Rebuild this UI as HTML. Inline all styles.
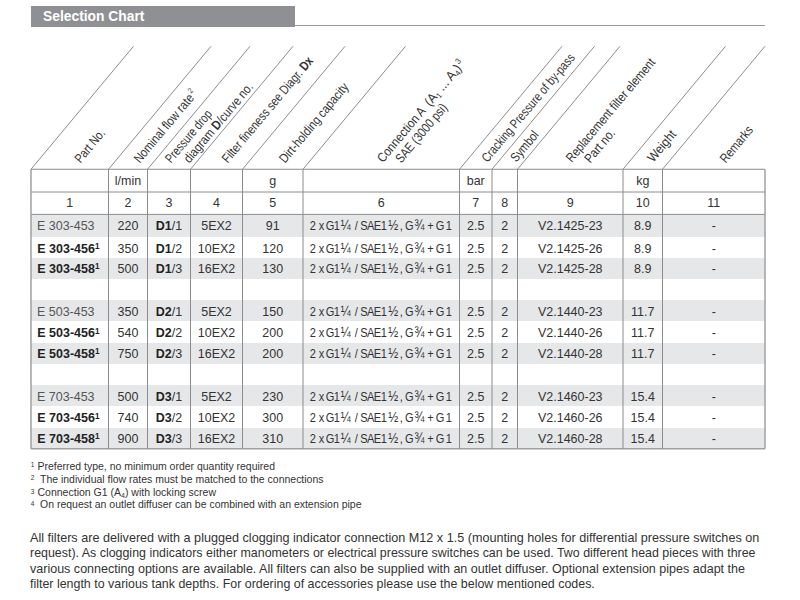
<!DOCTYPE html>
<html><head><meta charset="utf-8"><style>
html,body{margin:0;padding:0;}
body{width:800px;height:600px;position:relative;overflow:hidden;background:#fff;font-family:"Liberation Sans",sans-serif;color:#333;}
.a{position:absolute;white-space:nowrap;}
.c{position:absolute;white-space:nowrap;text-align:center;font-size:12.5px;line-height:14px;}
.b{font-weight:bold;color:#222;}
.h{position:absolute;white-space:nowrap;font-size:12px;line-height:13px;transform-origin:0 100%;transform:rotate(-47deg);color:#333;}
sup{font-size:7px;vertical-align:top;position:relative;top:-1px;}
</style></head><body>

<div class="a" style="left:30.6px;top:5.9px;width:264.6px;height:21px;background:#8f9094;"></div>
<svg class="a" style="left:0;top:0" width="800" height="40"><text x="43.1" y="21.4" font-family="Liberation Sans" font-size="14" font-weight="bold" fill="#fff" textLength="101.3" lengthAdjust="spacingAndGlyphs">Selection Chart</text></svg>
<div class="a" style="left:295px;top:24.5px;width:470px;height:1.5px;background:#9a9a9a;"></div>
<div class="a" style="left:31px;top:214.6px;width:734px;height:22.20px;background:#e6e7e8;"></div>
<div class="a" style="left:31px;top:258.3px;width:734px;height:20.45px;background:#e6e7e8;"></div>
<div class="a" style="left:31px;top:300.4px;width:734px;height:21.10px;background:#e6e7e8;"></div>
<div class="a" style="left:31px;top:342.9px;width:734px;height:20.85px;background:#e6e7e8;"></div>
<div class="a" style="left:31px;top:385.4px;width:734px;height:21.10px;background:#e6e7e8;"></div>
<div class="a" style="left:31px;top:427.9px;width:734px;height:20.40px;background:#e6e7e8;"></div>
<svg class="a" style="left:0;top:0" width="800" height="600" viewBox="0 0 800 600"><line x1="31" y1="169.25" x2="765" y2="169.25" stroke="#8c8c8c" stroke-width="1"/><line x1="31" y1="192.0" x2="765" y2="192.0" stroke="#8c8c8c" stroke-width="1"/><line x1="31" y1="214.4" x2="765" y2="214.4" stroke="#8c8c8c" stroke-width="1"/><line x1="31" y1="448.8" x2="765" y2="448.8" stroke="#a0a0a0" stroke-width="1.5"/><line x1="31" y1="169.25" x2="31" y2="448.8" stroke="#a0a0a0" stroke-width="1.5"/><line x1="108.5" y1="169.25" x2="108.5" y2="448.8" stroke="#8c8c8c" stroke-width="1"/><line x1="147.5" y1="169.25" x2="147.5" y2="448.8" stroke="#8c8c8c" stroke-width="1"/><line x1="190.5" y1="169.25" x2="190.5" y2="448.8" stroke="#8c8c8c" stroke-width="1"/><line x1="242.5" y1="169.25" x2="242.5" y2="448.8" stroke="#8c8c8c" stroke-width="1"/><line x1="303" y1="169.25" x2="303" y2="448.8" stroke="#8c8c8c" stroke-width="1"/><line x1="459.5" y1="169.25" x2="459.5" y2="448.8" stroke="#8c8c8c" stroke-width="1"/><line x1="492" y1="169.25" x2="492" y2="448.8" stroke="#8c8c8c" stroke-width="1"/><line x1="517.5" y1="169.25" x2="517.5" y2="448.8" stroke="#8c8c8c" stroke-width="1"/><line x1="623" y1="169.25" x2="623" y2="448.8" stroke="#8c8c8c" stroke-width="1"/><line x1="662.5" y1="169.25" x2="662.5" y2="448.8" stroke="#8c8c8c" stroke-width="1"/><line x1="765" y1="169.25" x2="765" y2="448.8" stroke="#a0a0a0" stroke-width="1.5"/><line x1="31" y1="169.25" x2="133.5" y2="46.25" stroke="#8c8c8c" stroke-width="1"/><line x1="108.5" y1="169.25" x2="211.0" y2="46.25" stroke="#8c8c8c" stroke-width="1"/><line x1="147.5" y1="169.25" x2="250.0" y2="46.25" stroke="#8c8c8c" stroke-width="1"/><line x1="190.5" y1="169.25" x2="293.0" y2="46.25" stroke="#8c8c8c" stroke-width="1"/><line x1="242.5" y1="169.25" x2="345.0" y2="46.25" stroke="#8c8c8c" stroke-width="1"/><line x1="303" y1="169.25" x2="405.5" y2="46.25" stroke="#8c8c8c" stroke-width="1"/><line x1="459.5" y1="169.25" x2="562.0" y2="46.25" stroke="#8c8c8c" stroke-width="1"/><line x1="492" y1="169.25" x2="594.5" y2="46.25" stroke="#8c8c8c" stroke-width="1"/><line x1="517.5" y1="169.25" x2="620.0" y2="46.25" stroke="#8c8c8c" stroke-width="1"/><line x1="623" y1="169.25" x2="725.5" y2="46.25" stroke="#8c8c8c" stroke-width="1"/><line x1="662.5" y1="169.25" x2="765.0" y2="46.25" stroke="#8c8c8c" stroke-width="1"/></svg>
<svg class="a" style="left:0;top:0" width="800" height="600" font-family="Liberation Sans" font-size="13"><text transform="translate(128.00,185.00) scale(0.96,1)" text-anchor="middle" fill="#333" xml:space="preserve">l/min</text><text transform="translate(272.75,185.00) scale(0.96,1)" text-anchor="middle" fill="#333" xml:space="preserve">g</text><text transform="translate(475.75,185.00) scale(0.96,1)" text-anchor="middle" fill="#333" xml:space="preserve">bar</text><text transform="translate(642.75,185.00) scale(0.96,1)" text-anchor="middle" fill="#333" xml:space="preserve">kg</text><text transform="translate(69.75,207.30) scale(0.96,1)" text-anchor="middle" fill="#333" xml:space="preserve">1</text><text transform="translate(128.00,207.30) scale(0.96,1)" text-anchor="middle" fill="#333" xml:space="preserve">2</text><text transform="translate(169.00,207.30) scale(0.96,1)" text-anchor="middle" fill="#333" xml:space="preserve">3</text><text transform="translate(216.50,207.30) scale(0.96,1)" text-anchor="middle" fill="#333" xml:space="preserve">4</text><text transform="translate(272.75,207.30) scale(0.96,1)" text-anchor="middle" fill="#333" xml:space="preserve">5</text><text transform="translate(381.25,207.30) scale(0.96,1)" text-anchor="middle" fill="#333" xml:space="preserve">6</text><text transform="translate(475.75,207.30) scale(0.96,1)" text-anchor="middle" fill="#333" xml:space="preserve">7</text><text transform="translate(504.75,207.30) scale(0.96,1)" text-anchor="middle" fill="#333" xml:space="preserve">8</text><text transform="translate(570.25,207.30) scale(0.96,1)" text-anchor="middle" fill="#333" xml:space="preserve">9</text><text transform="translate(642.75,207.30) scale(0.96,1)" text-anchor="middle" fill="#333" xml:space="preserve">10</text><text transform="translate(713.75,207.30) scale(0.96,1)" text-anchor="middle" fill="#333" xml:space="preserve">11</text><text transform="translate(37.00,230.00) scale(0.96,1)" fill="#555" xml:space="preserve">E 303-453</text><text transform="translate(128.00,230.00) scale(0.96,1)" text-anchor="middle" fill="#333" xml:space="preserve">220</text><text transform="translate(169.00,230.00) scale(0.96,1)" text-anchor="middle" fill="#333" xml:space="preserve"><tspan font-weight="bold" fill="#222">D1</tspan>/1</text><text transform="translate(216.50,230.00) scale(0.96,1)" text-anchor="middle" fill="#333" xml:space="preserve">5EX2</text><text transform="translate(272.75,230.00) scale(0.96,1)" text-anchor="middle" fill="#333" xml:space="preserve">91</text><g transform="scale(0.85,1)"><text x="367.94" y="230.00" text-anchor="middle" fill="#333">2</text><text x="378.35" y="230.00" text-anchor="middle" fill="#333">x</text><text x="388.24" y="230.00" text-anchor="middle" fill="#333">G</text><text x="396.35" y="230.00" text-anchor="middle" fill="#333">1</text><text x="406.59" y="230.00" text-anchor="middle" font-size="14" fill="#333">¼</text><text x="419.12" y="230.00" text-anchor="middle" fill="#333">/</text><text x="428.24" y="230.00" text-anchor="middle" fill="#333">S</text><text x="436.18" y="230.00" text-anchor="middle" fill="#333">A</text><text x="444.12" y="230.00" text-anchor="middle" fill="#333">E</text><text x="451.47" y="230.00" text-anchor="middle" fill="#333">1</text><text x="462.47" y="230.00" text-anchor="middle" font-size="14" fill="#333">½</text><text x="472.06" y="230.00" text-anchor="middle" fill="#333">,</text><text x="481.47" y="230.00" text-anchor="middle" fill="#333">G</text><text x="493.41" y="230.00" text-anchor="middle" font-size="14" fill="#333">¾</text><text x="506.35" y="230.00" text-anchor="middle" fill="#333">+</text><text x="517.65" y="230.00" text-anchor="middle" fill="#333">G</text><text x="527.94" y="230.00" text-anchor="middle" fill="#333">1</text></g><text transform="translate(475.75,230.00) scale(0.96,1)" text-anchor="middle" fill="#333" xml:space="preserve">2.5</text><text transform="translate(504.75,230.00) scale(0.96,1)" text-anchor="middle" fill="#333" xml:space="preserve">2</text><text transform="translate(570.25,230.00) scale(0.96,1)" text-anchor="middle" fill="#333" xml:space="preserve">V2.1425-23</text><text transform="translate(642.75,230.00) scale(0.96,1)" text-anchor="middle" fill="#333" xml:space="preserve">8.9</text><text transform="translate(713.75,230.00) scale(0.96,1)" text-anchor="middle" fill="#333" xml:space="preserve">-</text><text transform="translate(37.30,252.90) scale(0.96,1)" font-weight="bold" fill="#222" xml:space="preserve">E 303-456<tspan font-size="8.5" dy="-3.6" dx="0.2">1</tspan></text><text transform="translate(128.00,252.90) scale(0.96,1)" text-anchor="middle" fill="#333" xml:space="preserve">350</text><text transform="translate(169.00,252.90) scale(0.96,1)" text-anchor="middle" fill="#333" xml:space="preserve"><tspan font-weight="bold" fill="#222">D1</tspan>/2</text><text transform="translate(216.50,252.90) scale(0.96,1)" text-anchor="middle" fill="#333" xml:space="preserve">10EX2</text><text transform="translate(272.75,252.90) scale(0.96,1)" text-anchor="middle" fill="#333" xml:space="preserve">120</text><g transform="scale(0.85,1)"><text x="367.94" y="252.90" text-anchor="middle" fill="#333">2</text><text x="378.35" y="252.90" text-anchor="middle" fill="#333">x</text><text x="388.24" y="252.90" text-anchor="middle" fill="#333">G</text><text x="396.35" y="252.90" text-anchor="middle" fill="#333">1</text><text x="406.59" y="252.90" text-anchor="middle" font-size="14" fill="#333">¼</text><text x="419.12" y="252.90" text-anchor="middle" fill="#333">/</text><text x="428.24" y="252.90" text-anchor="middle" fill="#333">S</text><text x="436.18" y="252.90" text-anchor="middle" fill="#333">A</text><text x="444.12" y="252.90" text-anchor="middle" fill="#333">E</text><text x="451.47" y="252.90" text-anchor="middle" fill="#333">1</text><text x="462.47" y="252.90" text-anchor="middle" font-size="14" fill="#333">½</text><text x="472.06" y="252.90" text-anchor="middle" fill="#333">,</text><text x="481.47" y="252.90" text-anchor="middle" fill="#333">G</text><text x="493.41" y="252.90" text-anchor="middle" font-size="14" fill="#333">¾</text><text x="506.35" y="252.90" text-anchor="middle" fill="#333">+</text><text x="517.65" y="252.90" text-anchor="middle" fill="#333">G</text><text x="527.94" y="252.90" text-anchor="middle" fill="#333">1</text></g><text transform="translate(475.75,252.90) scale(0.96,1)" text-anchor="middle" fill="#333" xml:space="preserve">2.5</text><text transform="translate(504.75,252.90) scale(0.96,1)" text-anchor="middle" fill="#333" xml:space="preserve">2</text><text transform="translate(570.25,252.90) scale(0.96,1)" text-anchor="middle" fill="#333" xml:space="preserve">V2.1425-26</text><text transform="translate(642.75,252.90) scale(0.96,1)" text-anchor="middle" fill="#333" xml:space="preserve">8.9</text><text transform="translate(713.75,252.90) scale(0.96,1)" text-anchor="middle" fill="#333" xml:space="preserve">-</text><text transform="translate(37.30,272.90) scale(0.96,1)" font-weight="bold" fill="#222" xml:space="preserve">E 303-458<tspan font-size="8.5" dy="-3.6" dx="0.2">1</tspan></text><text transform="translate(128.00,272.90) scale(0.96,1)" text-anchor="middle" fill="#333" xml:space="preserve">500</text><text transform="translate(169.00,272.90) scale(0.96,1)" text-anchor="middle" fill="#333" xml:space="preserve"><tspan font-weight="bold" fill="#222">D1</tspan>/3</text><text transform="translate(216.50,272.90) scale(0.96,1)" text-anchor="middle" fill="#333" xml:space="preserve">16EX2</text><text transform="translate(272.75,272.90) scale(0.96,1)" text-anchor="middle" fill="#333" xml:space="preserve">130</text><g transform="scale(0.85,1)"><text x="367.94" y="272.90" text-anchor="middle" fill="#333">2</text><text x="378.35" y="272.90" text-anchor="middle" fill="#333">x</text><text x="388.24" y="272.90" text-anchor="middle" fill="#333">G</text><text x="396.35" y="272.90" text-anchor="middle" fill="#333">1</text><text x="406.59" y="272.90" text-anchor="middle" font-size="14" fill="#333">¼</text><text x="419.12" y="272.90" text-anchor="middle" fill="#333">/</text><text x="428.24" y="272.90" text-anchor="middle" fill="#333">S</text><text x="436.18" y="272.90" text-anchor="middle" fill="#333">A</text><text x="444.12" y="272.90" text-anchor="middle" fill="#333">E</text><text x="451.47" y="272.90" text-anchor="middle" fill="#333">1</text><text x="462.47" y="272.90" text-anchor="middle" font-size="14" fill="#333">½</text><text x="472.06" y="272.90" text-anchor="middle" fill="#333">,</text><text x="481.47" y="272.90" text-anchor="middle" fill="#333">G</text><text x="493.41" y="272.90" text-anchor="middle" font-size="14" fill="#333">¾</text><text x="506.35" y="272.90" text-anchor="middle" fill="#333">+</text><text x="517.65" y="272.90" text-anchor="middle" fill="#333">G</text><text x="527.94" y="272.90" text-anchor="middle" fill="#333">1</text></g><text transform="translate(475.75,272.90) scale(0.96,1)" text-anchor="middle" fill="#333" xml:space="preserve">2.5</text><text transform="translate(504.75,272.90) scale(0.96,1)" text-anchor="middle" fill="#333" xml:space="preserve">2</text><text transform="translate(570.25,272.90) scale(0.96,1)" text-anchor="middle" fill="#333" xml:space="preserve">V2.1425-28</text><text transform="translate(642.75,272.90) scale(0.96,1)" text-anchor="middle" fill="#333" xml:space="preserve">8.9</text><text transform="translate(713.75,272.90) scale(0.96,1)" text-anchor="middle" fill="#333" xml:space="preserve">-</text><text transform="translate(37.00,315.80) scale(0.96,1)" fill="#555" xml:space="preserve">E 503-453</text><text transform="translate(128.00,315.80) scale(0.96,1)" text-anchor="middle" fill="#333" xml:space="preserve">350</text><text transform="translate(169.00,315.80) scale(0.96,1)" text-anchor="middle" fill="#333" xml:space="preserve"><tspan font-weight="bold" fill="#222">D2</tspan>/1</text><text transform="translate(216.50,315.80) scale(0.96,1)" text-anchor="middle" fill="#333" xml:space="preserve">5EX2</text><text transform="translate(272.75,315.80) scale(0.96,1)" text-anchor="middle" fill="#333" xml:space="preserve">150</text><g transform="scale(0.85,1)"><text x="367.94" y="315.80" text-anchor="middle" fill="#333">2</text><text x="378.35" y="315.80" text-anchor="middle" fill="#333">x</text><text x="388.24" y="315.80" text-anchor="middle" fill="#333">G</text><text x="396.35" y="315.80" text-anchor="middle" fill="#333">1</text><text x="406.59" y="315.80" text-anchor="middle" font-size="14" fill="#333">¼</text><text x="419.12" y="315.80" text-anchor="middle" fill="#333">/</text><text x="428.24" y="315.80" text-anchor="middle" fill="#333">S</text><text x="436.18" y="315.80" text-anchor="middle" fill="#333">A</text><text x="444.12" y="315.80" text-anchor="middle" fill="#333">E</text><text x="451.47" y="315.80" text-anchor="middle" fill="#333">1</text><text x="462.47" y="315.80" text-anchor="middle" font-size="14" fill="#333">½</text><text x="472.06" y="315.80" text-anchor="middle" fill="#333">,</text><text x="481.47" y="315.80" text-anchor="middle" fill="#333">G</text><text x="493.41" y="315.80" text-anchor="middle" font-size="14" fill="#333">¾</text><text x="506.35" y="315.80" text-anchor="middle" fill="#333">+</text><text x="517.65" y="315.80" text-anchor="middle" fill="#333">G</text><text x="527.94" y="315.80" text-anchor="middle" fill="#333">1</text></g><text transform="translate(475.75,315.80) scale(0.96,1)" text-anchor="middle" fill="#333" xml:space="preserve">2.5</text><text transform="translate(504.75,315.80) scale(0.96,1)" text-anchor="middle" fill="#333" xml:space="preserve">2</text><text transform="translate(570.25,315.80) scale(0.96,1)" text-anchor="middle" fill="#333" xml:space="preserve">V2.1440-23</text><text transform="translate(642.75,315.80) scale(0.96,1)" text-anchor="middle" fill="#333" xml:space="preserve">11.7</text><text transform="translate(713.75,315.80) scale(0.96,1)" text-anchor="middle" fill="#333" xml:space="preserve">-</text><text transform="translate(37.30,337.10) scale(0.96,1)" font-weight="bold" fill="#222" xml:space="preserve">E 503-456<tspan font-size="8.5" dy="-3.6" dx="0.2">1</tspan></text><text transform="translate(128.00,337.10) scale(0.96,1)" text-anchor="middle" fill="#333" xml:space="preserve">540</text><text transform="translate(169.00,337.10) scale(0.96,1)" text-anchor="middle" fill="#333" xml:space="preserve"><tspan font-weight="bold" fill="#222">D2</tspan>/2</text><text transform="translate(216.50,337.10) scale(0.96,1)" text-anchor="middle" fill="#333" xml:space="preserve">10EX2</text><text transform="translate(272.75,337.10) scale(0.96,1)" text-anchor="middle" fill="#333" xml:space="preserve">200</text><g transform="scale(0.85,1)"><text x="367.94" y="337.10" text-anchor="middle" fill="#333">2</text><text x="378.35" y="337.10" text-anchor="middle" fill="#333">x</text><text x="388.24" y="337.10" text-anchor="middle" fill="#333">G</text><text x="396.35" y="337.10" text-anchor="middle" fill="#333">1</text><text x="406.59" y="337.10" text-anchor="middle" font-size="14" fill="#333">¼</text><text x="419.12" y="337.10" text-anchor="middle" fill="#333">/</text><text x="428.24" y="337.10" text-anchor="middle" fill="#333">S</text><text x="436.18" y="337.10" text-anchor="middle" fill="#333">A</text><text x="444.12" y="337.10" text-anchor="middle" fill="#333">E</text><text x="451.47" y="337.10" text-anchor="middle" fill="#333">1</text><text x="462.47" y="337.10" text-anchor="middle" font-size="14" fill="#333">½</text><text x="472.06" y="337.10" text-anchor="middle" fill="#333">,</text><text x="481.47" y="337.10" text-anchor="middle" fill="#333">G</text><text x="493.41" y="337.10" text-anchor="middle" font-size="14" fill="#333">¾</text><text x="506.35" y="337.10" text-anchor="middle" fill="#333">+</text><text x="517.65" y="337.10" text-anchor="middle" fill="#333">G</text><text x="527.94" y="337.10" text-anchor="middle" fill="#333">1</text></g><text transform="translate(475.75,337.10) scale(0.96,1)" text-anchor="middle" fill="#333" xml:space="preserve">2.5</text><text transform="translate(504.75,337.10) scale(0.96,1)" text-anchor="middle" fill="#333" xml:space="preserve">2</text><text transform="translate(570.25,337.10) scale(0.96,1)" text-anchor="middle" fill="#333" xml:space="preserve">V2.1440-26</text><text transform="translate(642.75,337.10) scale(0.96,1)" text-anchor="middle" fill="#333" xml:space="preserve">11.7</text><text transform="translate(713.75,337.10) scale(0.96,1)" text-anchor="middle" fill="#333" xml:space="preserve">-</text><text transform="translate(37.30,357.90) scale(0.96,1)" font-weight="bold" fill="#222" xml:space="preserve">E 503-458<tspan font-size="8.5" dy="-3.6" dx="0.2">1</tspan></text><text transform="translate(128.00,357.90) scale(0.96,1)" text-anchor="middle" fill="#333" xml:space="preserve">750</text><text transform="translate(169.00,357.90) scale(0.96,1)" text-anchor="middle" fill="#333" xml:space="preserve"><tspan font-weight="bold" fill="#222">D2</tspan>/3</text><text transform="translate(216.50,357.90) scale(0.96,1)" text-anchor="middle" fill="#333" xml:space="preserve">16EX2</text><text transform="translate(272.75,357.90) scale(0.96,1)" text-anchor="middle" fill="#333" xml:space="preserve">200</text><g transform="scale(0.85,1)"><text x="367.94" y="357.90" text-anchor="middle" fill="#333">2</text><text x="378.35" y="357.90" text-anchor="middle" fill="#333">x</text><text x="388.24" y="357.90" text-anchor="middle" fill="#333">G</text><text x="396.35" y="357.90" text-anchor="middle" fill="#333">1</text><text x="406.59" y="357.90" text-anchor="middle" font-size="14" fill="#333">¼</text><text x="419.12" y="357.90" text-anchor="middle" fill="#333">/</text><text x="428.24" y="357.90" text-anchor="middle" fill="#333">S</text><text x="436.18" y="357.90" text-anchor="middle" fill="#333">A</text><text x="444.12" y="357.90" text-anchor="middle" fill="#333">E</text><text x="451.47" y="357.90" text-anchor="middle" fill="#333">1</text><text x="462.47" y="357.90" text-anchor="middle" font-size="14" fill="#333">½</text><text x="472.06" y="357.90" text-anchor="middle" fill="#333">,</text><text x="481.47" y="357.90" text-anchor="middle" fill="#333">G</text><text x="493.41" y="357.90" text-anchor="middle" font-size="14" fill="#333">¾</text><text x="506.35" y="357.90" text-anchor="middle" fill="#333">+</text><text x="517.65" y="357.90" text-anchor="middle" fill="#333">G</text><text x="527.94" y="357.90" text-anchor="middle" fill="#333">1</text></g><text transform="translate(475.75,357.90) scale(0.96,1)" text-anchor="middle" fill="#333" xml:space="preserve">2.5</text><text transform="translate(504.75,357.90) scale(0.96,1)" text-anchor="middle" fill="#333" xml:space="preserve">2</text><text transform="translate(570.25,357.90) scale(0.96,1)" text-anchor="middle" fill="#333" xml:space="preserve">V2.1440-28</text><text transform="translate(642.75,357.90) scale(0.96,1)" text-anchor="middle" fill="#333" xml:space="preserve">11.7</text><text transform="translate(713.75,357.90) scale(0.96,1)" text-anchor="middle" fill="#333" xml:space="preserve">-</text><text transform="translate(37.00,400.80) scale(0.96,1)" fill="#555" xml:space="preserve">E 703-453</text><text transform="translate(128.00,400.80) scale(0.96,1)" text-anchor="middle" fill="#333" xml:space="preserve">500</text><text transform="translate(169.00,400.80) scale(0.96,1)" text-anchor="middle" fill="#333" xml:space="preserve"><tspan font-weight="bold" fill="#222">D3</tspan>/1</text><text transform="translate(216.50,400.80) scale(0.96,1)" text-anchor="middle" fill="#333" xml:space="preserve">5EX2</text><text transform="translate(272.75,400.80) scale(0.96,1)" text-anchor="middle" fill="#333" xml:space="preserve">230</text><g transform="scale(0.85,1)"><text x="367.94" y="400.80" text-anchor="middle" fill="#333">2</text><text x="378.35" y="400.80" text-anchor="middle" fill="#333">x</text><text x="388.24" y="400.80" text-anchor="middle" fill="#333">G</text><text x="396.35" y="400.80" text-anchor="middle" fill="#333">1</text><text x="406.59" y="400.80" text-anchor="middle" font-size="14" fill="#333">¼</text><text x="419.12" y="400.80" text-anchor="middle" fill="#333">/</text><text x="428.24" y="400.80" text-anchor="middle" fill="#333">S</text><text x="436.18" y="400.80" text-anchor="middle" fill="#333">A</text><text x="444.12" y="400.80" text-anchor="middle" fill="#333">E</text><text x="451.47" y="400.80" text-anchor="middle" fill="#333">1</text><text x="462.47" y="400.80" text-anchor="middle" font-size="14" fill="#333">½</text><text x="472.06" y="400.80" text-anchor="middle" fill="#333">,</text><text x="481.47" y="400.80" text-anchor="middle" fill="#333">G</text><text x="493.41" y="400.80" text-anchor="middle" font-size="14" fill="#333">¾</text><text x="506.35" y="400.80" text-anchor="middle" fill="#333">+</text><text x="517.65" y="400.80" text-anchor="middle" fill="#333">G</text><text x="527.94" y="400.80" text-anchor="middle" fill="#333">1</text></g><text transform="translate(475.75,400.80) scale(0.96,1)" text-anchor="middle" fill="#333" xml:space="preserve">2.5</text><text transform="translate(504.75,400.80) scale(0.96,1)" text-anchor="middle" fill="#333" xml:space="preserve">2</text><text transform="translate(570.25,400.80) scale(0.96,1)" text-anchor="middle" fill="#333" xml:space="preserve">V2.1460-23</text><text transform="translate(642.75,400.80) scale(0.96,1)" text-anchor="middle" fill="#333" xml:space="preserve">15.4</text><text transform="translate(713.75,400.80) scale(0.96,1)" text-anchor="middle" fill="#333" xml:space="preserve">-</text><text transform="translate(37.30,422.10) scale(0.96,1)" font-weight="bold" fill="#222" xml:space="preserve">E 703-456<tspan font-size="8.5" dy="-3.6" dx="0.2">1</tspan></text><text transform="translate(128.00,422.10) scale(0.96,1)" text-anchor="middle" fill="#333" xml:space="preserve">740</text><text transform="translate(169.00,422.10) scale(0.96,1)" text-anchor="middle" fill="#333" xml:space="preserve"><tspan font-weight="bold" fill="#222">D3</tspan>/2</text><text transform="translate(216.50,422.10) scale(0.96,1)" text-anchor="middle" fill="#333" xml:space="preserve">10EX2</text><text transform="translate(272.75,422.10) scale(0.96,1)" text-anchor="middle" fill="#333" xml:space="preserve">300</text><g transform="scale(0.85,1)"><text x="367.94" y="422.10" text-anchor="middle" fill="#333">2</text><text x="378.35" y="422.10" text-anchor="middle" fill="#333">x</text><text x="388.24" y="422.10" text-anchor="middle" fill="#333">G</text><text x="396.35" y="422.10" text-anchor="middle" fill="#333">1</text><text x="406.59" y="422.10" text-anchor="middle" font-size="14" fill="#333">¼</text><text x="419.12" y="422.10" text-anchor="middle" fill="#333">/</text><text x="428.24" y="422.10" text-anchor="middle" fill="#333">S</text><text x="436.18" y="422.10" text-anchor="middle" fill="#333">A</text><text x="444.12" y="422.10" text-anchor="middle" fill="#333">E</text><text x="451.47" y="422.10" text-anchor="middle" fill="#333">1</text><text x="462.47" y="422.10" text-anchor="middle" font-size="14" fill="#333">½</text><text x="472.06" y="422.10" text-anchor="middle" fill="#333">,</text><text x="481.47" y="422.10" text-anchor="middle" fill="#333">G</text><text x="493.41" y="422.10" text-anchor="middle" font-size="14" fill="#333">¾</text><text x="506.35" y="422.10" text-anchor="middle" fill="#333">+</text><text x="517.65" y="422.10" text-anchor="middle" fill="#333">G</text><text x="527.94" y="422.10" text-anchor="middle" fill="#333">1</text></g><text transform="translate(475.75,422.10) scale(0.96,1)" text-anchor="middle" fill="#333" xml:space="preserve">2.5</text><text transform="translate(504.75,422.10) scale(0.96,1)" text-anchor="middle" fill="#333" xml:space="preserve">2</text><text transform="translate(570.25,422.10) scale(0.96,1)" text-anchor="middle" fill="#333" xml:space="preserve">V2.1460-26</text><text transform="translate(642.75,422.10) scale(0.96,1)" text-anchor="middle" fill="#333" xml:space="preserve">15.4</text><text transform="translate(713.75,422.10) scale(0.96,1)" text-anchor="middle" fill="#333" xml:space="preserve">-</text><text transform="translate(37.30,442.90) scale(0.96,1)" font-weight="bold" fill="#222" xml:space="preserve">E 703-458<tspan font-size="8.5" dy="-3.6" dx="0.2">1</tspan></text><text transform="translate(128.00,442.90) scale(0.96,1)" text-anchor="middle" fill="#333" xml:space="preserve">900</text><text transform="translate(169.00,442.90) scale(0.96,1)" text-anchor="middle" fill="#333" xml:space="preserve"><tspan font-weight="bold" fill="#222">D3</tspan>/3</text><text transform="translate(216.50,442.90) scale(0.96,1)" text-anchor="middle" fill="#333" xml:space="preserve">16EX2</text><text transform="translate(272.75,442.90) scale(0.96,1)" text-anchor="middle" fill="#333" xml:space="preserve">310</text><g transform="scale(0.85,1)"><text x="367.94" y="442.90" text-anchor="middle" fill="#333">2</text><text x="378.35" y="442.90" text-anchor="middle" fill="#333">x</text><text x="388.24" y="442.90" text-anchor="middle" fill="#333">G</text><text x="396.35" y="442.90" text-anchor="middle" fill="#333">1</text><text x="406.59" y="442.90" text-anchor="middle" font-size="14" fill="#333">¼</text><text x="419.12" y="442.90" text-anchor="middle" fill="#333">/</text><text x="428.24" y="442.90" text-anchor="middle" fill="#333">S</text><text x="436.18" y="442.90" text-anchor="middle" fill="#333">A</text><text x="444.12" y="442.90" text-anchor="middle" fill="#333">E</text><text x="451.47" y="442.90" text-anchor="middle" fill="#333">1</text><text x="462.47" y="442.90" text-anchor="middle" font-size="14" fill="#333">½</text><text x="472.06" y="442.90" text-anchor="middle" fill="#333">,</text><text x="481.47" y="442.90" text-anchor="middle" fill="#333">G</text><text x="493.41" y="442.90" text-anchor="middle" font-size="14" fill="#333">¾</text><text x="506.35" y="442.90" text-anchor="middle" fill="#333">+</text><text x="517.65" y="442.90" text-anchor="middle" fill="#333">G</text><text x="527.94" y="442.90" text-anchor="middle" fill="#333">1</text></g><text transform="translate(475.75,442.90) scale(0.96,1)" text-anchor="middle" fill="#333" xml:space="preserve">2.5</text><text transform="translate(504.75,442.90) scale(0.96,1)" text-anchor="middle" fill="#333" xml:space="preserve">2</text><text transform="translate(570.25,442.90) scale(0.96,1)" text-anchor="middle" fill="#333" xml:space="preserve">V2.1460-28</text><text transform="translate(642.75,442.90) scale(0.96,1)" text-anchor="middle" fill="#333" xml:space="preserve">15.4</text><text transform="translate(713.75,442.90) scale(0.96,1)" text-anchor="middle" fill="#333" xml:space="preserve">-</text></svg>
<svg class="a" style="left:0;top:0" width="800" height="600"><text transform="translate(80.5,163.7) rotate(-50)" x="0" font-family="Liberation Sans" font-size="13" fill="#333" textLength="39.4" lengthAdjust="spacingAndGlyphs" xml:space="preserve">Part No.</text><text transform="translate(139.7,163.8) rotate(-50)" x="0" font-family="Liberation Sans" font-size="13" fill="#333" textLength="90.5" lengthAdjust="spacingAndGlyphs" xml:space="preserve">Nominal flow rate<tspan dy="-5.5" dx="1.5" font-size="8">2</tspan></text><text transform="translate(171.1,163.8) rotate(-50)" x="0" font-family="Liberation Sans" font-size="13" fill="#333" textLength="64.5" lengthAdjust="spacingAndGlyphs" xml:space="preserve">Pressure drop</text><text transform="translate(189.5,163.8) rotate(-50)" x="0" font-family="Liberation Sans" font-size="13" fill="#333" textLength="100" lengthAdjust="spacingAndGlyphs" xml:space="preserve">diagram <tspan font-weight="bold">D</tspan>/curve no.</text><text transform="translate(227.8,163.8) rotate(-50)" x="0" font-family="Liberation Sans" font-size="13" fill="#333" textLength="134" lengthAdjust="spacingAndGlyphs" xml:space="preserve">Filter fineness see Diagr. <tspan font-weight="bold">Dx</tspan></text><text transform="translate(285.1,163.8) rotate(-50)" x="0" font-family="Liberation Sans" font-size="13" fill="#333" textLength="100" lengthAdjust="spacingAndGlyphs" xml:space="preserve">Dirt-holding capacity</text><text transform="translate(382.9,163.3) rotate(-50)" x="0" font-family="Liberation Sans" font-size="13" fill="#333" textLength="67.8" lengthAdjust="spacingAndGlyphs" xml:space="preserve">Connection A</text><text transform="translate(382.9,163.3) rotate(-50)" x="73.5" font-family="Liberation Sans" font-size="13" fill="#333" textLength="55.2" lengthAdjust="spacingAndGlyphs" xml:space="preserve">(A<tspan dy="2" font-size="8">1</tspan><tspan dy="-2"> ... A</tspan><tspan dy="2" font-size="8">4</tspan><tspan dy="-2">)</tspan><tspan dy="-5.5" dx="1" font-size="8">3</tspan></text><text transform="translate(401.3,163.8) rotate(-50)" x="0" font-family="Liberation Sans" font-size="13" fill="#333" textLength="72.9" lengthAdjust="spacingAndGlyphs" xml:space="preserve">SAE (3000 psi)</text><text transform="translate(487.5,163.0) rotate(-50)" x="0" font-family="Liberation Sans" font-size="13" fill="#333" textLength="137" lengthAdjust="spacingAndGlyphs" xml:space="preserve">Cracking Pressure of by-pass</text><text transform="translate(516.25,162.8) rotate(-50)" x="0" font-family="Liberation Sans" font-size="13" fill="#333" textLength="36" lengthAdjust="spacingAndGlyphs" xml:space="preserve">Symbol</text><text transform="translate(571.8,163.0) rotate(-50)" x="0" font-family="Liberation Sans" font-size="13" fill="#333" textLength="131" lengthAdjust="spacingAndGlyphs" xml:space="preserve">Replacement filter element</text><text transform="translate(590.25,163.8) rotate(-50)" x="0" font-family="Liberation Sans" font-size="13" fill="#333" textLength="39.8" lengthAdjust="spacingAndGlyphs" xml:space="preserve">Part no.</text><text transform="translate(653.2,163.0) rotate(-50)" x="0" font-family="Liberation Sans" font-size="13" fill="#333" textLength="37" lengthAdjust="spacingAndGlyphs" xml:space="preserve">Weight</text><text transform="translate(725.75,163.8) rotate(-50)" x="0" font-family="Liberation Sans" font-size="13" fill="#333" textLength="43.6" lengthAdjust="spacingAndGlyphs" xml:space="preserve">Remarks</text></svg>
<svg class="a" style="left:0;top:0" width="800" height="600" font-family="Liberation Sans"><text x="30.8" y="467.40" font-size="6.5" fill="#333">1</text><text x="37.5" y="470.0" font-size="10.5" fill="#333" textLength="237.5" lengthAdjust="spacingAndGlyphs">Preferred type, no minimum order quantity required</text><text x="30.8" y="480.40" font-size="6.5" fill="#333">2</text><text x="40.0" y="483.0" font-size="10.5" fill="#333" textLength="283.5" lengthAdjust="spacingAndGlyphs">The individual flow rates must be matched to the connections</text><text x="30.8" y="493.60" font-size="6.5" fill="#333">3</text><text x="37.5" y="496.2" font-size="10.5" fill="#333" textLength="178.5" lengthAdjust="spacingAndGlyphs">Connection G1 (A<tspan font-size="7" dy="1.5">4</tspan><tspan dy="-1.5">) with locking screw</tspan></text><text x="30.8" y="505.70" font-size="6.5" fill="#333">4</text><text x="40.0" y="508.3" font-size="10.5" fill="#333" textLength="321.5" lengthAdjust="spacingAndGlyphs">On request an outlet diffuser can be combined with an extension pipe</text><text x="30" y="541.5" font-size="12.8" fill="#333" textLength="729.25" lengthAdjust="spacingAndGlyphs">All filters are delivered with a plugged clogging indicator connection M12 x 1.5 (mounting holes for differential pressure switches on</text><text x="30" y="557.3" font-size="12.8" fill="#333" textLength="725.5" lengthAdjust="spacingAndGlyphs">request). As clogging indicators either manometers or electrical pressure switches can be used. Two different head pieces with three</text><text x="30" y="572.9" font-size="12.8" fill="#333" textLength="715.0" lengthAdjust="spacingAndGlyphs">various connecting options are available. All filters can also be supplied with an outlet diffuser. Optional extension pipes adapt the</text><text x="30" y="587.6" font-size="12.8" fill="#333" textLength="564.8" lengthAdjust="spacingAndGlyphs">filter length to various tank depths. For ordering of accessories please use the below mentioned codes.</text></svg>
</body></html>
